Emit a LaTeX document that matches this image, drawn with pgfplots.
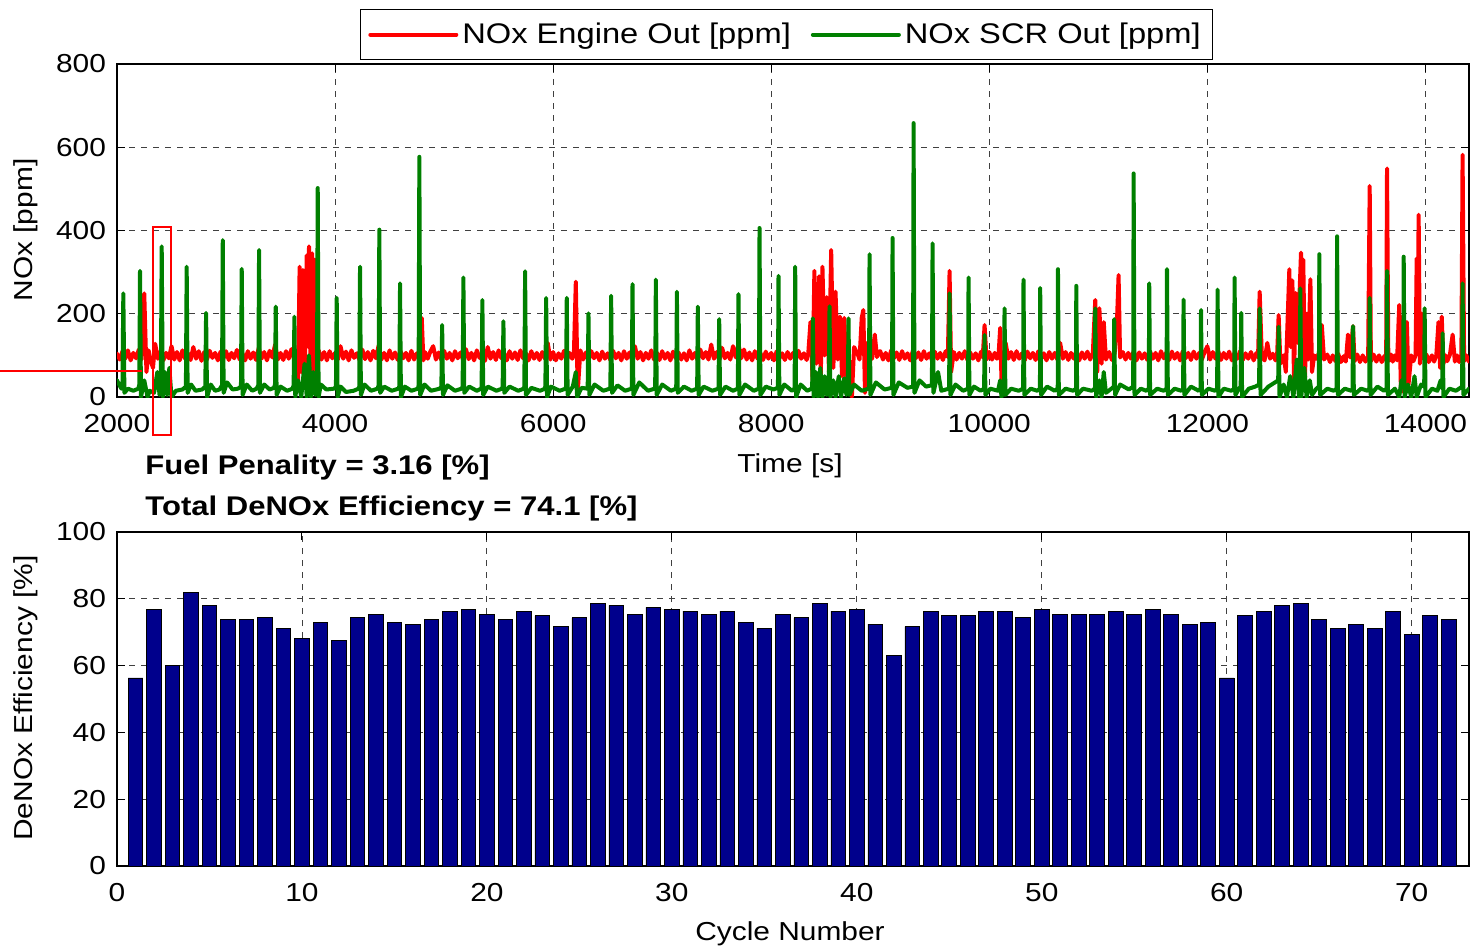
\documentclass[border=0pt]{standalone}
\usepackage{fontspec}
\setmainfont{Liberation Sans}[FakeStretch=1.15]
\usepackage{pgfplots}
\pgfplotsset{compat=1.18}
\definecolor{mred}{rgb}{1,0,0}
\definecolor{mgreen}{rgb}{0,0.5,0}
\definecolor{mbar}{rgb}{0,0,0.55}
\newcommand{\fs}{\fontsize{13}{15}\selectfont}
\newcommand{\fb}{\fontsize{13.5}{16}\selectfont\bfseries}
\newcommand{\fl}{\fontsize{14.2}{17}\selectfont}
\begin{document}
\begin{tikzpicture}
\pgfplotsset{mystyle/.style={scale only axis, width=676pt,
  axis line style={line width=0.7pt},
  grid=major, major grid style={black!75, dash pattern=on 3pt off 3pt, line width=0.45pt},
  tick align=inside, major tick length=4pt, tick style={black, line width=0.5pt},
  ticklabel style={font=\fs},
  xticklabel style={yshift=-5pt}, yticklabel style={xshift=-2pt},
  scaled x ticks=false, scaled y ticks=false,
  /pgf/number format/assume math mode=true, /pgf/number format/1000 sep={}}}
\begin{axis}[mystyle, at={(58.5pt,-198.5pt)}, anchor=south west, height=166.5pt,
  xmin=2000, xmax=14400, ymin=0, ymax=800,
  xtick={2000,4000,...,14000}, ytick={0,200,...,800},
  legend columns=2,
  legend style={at={(0.4952,1.012)}, anchor=south, draw=black, line width=0.6pt, font=\fl,
    inner xsep=4pt, inner ysep=4.5pt, /tikz/every even column/.append style={column sep=8pt}},
  legend image code/.code={\draw[#1] (0pt,0pt) -- (43pt,0pt);}]
\addplot[mred, line width=2pt, line join=round, line cap=round] coordinates {
(2000,104)(2025,90)(2050,110)(2075,92)(2100,112)(2125,88)(2150,106)(2175,93)(2200,114)(2225,90)(2250,249)(2270,60)(2290,112)(2310,86)(2330,70)(2350,128)(2375,92)(2400,110)(2425,88)(2450,106)(2475,93)(2500,122)(2525,90)(2550,108)(2575,88)(2600,112)(2625,92)(2650,105)(2675,89)(2700,120)(2725,92)(2750,110)(2775,87)(2800,108)(2825,90)(2850,111)(2875,94)(2900,106)(2925,88)(2950,109)(2975,92)
(3000,110)(3025,89)(3050,106)(3075,93)(3100,113)(3125,90)(3150,105)(3175,88)(3200,110)(3225,92)(3250,107)(3275,89)(3300,118)(3325,92)(3350,108)(3375,88)(3400,111)(3425,95)(3450,126)(3475,90)(3500,106)(3525,89)(3550,110)(3575,92)(3600,115)(3625,90)(3640,100)(3660,40)(3675,313)(3690,60)(3705,305)(3720,30)(3740,340)(3755,120)(3761,362)(3775,60)(3790,345)(3805,40)(3815,330)(3830,100)(3850,112)(3875,90)(3900,108)(3925,88)(3950,110)(3975,93)
(4000,106)(4025,90)(4050,122)(4075,92)(4100,109)(4125,88)(4150,112)(4175,94)(4200,105)(4225,89)(4250,114)(4275,91)(4300,108)(4325,88)(4350,111)(4375,93)(4400,124)(4425,90)(4450,106)(4475,88)(4500,112)(4525,92)(4550,107)(4575,89)(4600,110)(4625,93)(4650,106)(4675,88)(4700,111)(4725,90)(4750,105)(4775,92)(4795,190)(4810,88)(4825,108)(4850,92)(4875,110)(4900,122)(4925,90)(4950,107)(4975,89)
(5000,111)(5025,92)(5050,106)(5075,88)(5100,110)(5125,93)(5150,107)(5175,89)(5200,115)(5225,91)(5250,106)(5275,88)(5300,112)(5325,94)(5350,105)(5375,87)(5400,120)(5425,92)(5450,108)(5475,89)(5500,112)(5525,93)(5550,106)(5575,88)(5600,110)(5625,92)(5650,107)(5675,89)(5700,112)(5725,93)(5750,105)(5775,88)(5800,110)(5825,92)(5850,106)(5875,89)(5900,108)(5925,92)(5950,130)(5975,90)
(6000,108)(6025,88)(6050,105)(6075,92)(6100,111)(6125,89)(6150,106)(6175,92)(6190,100)(6208,277)(6225,10)(6250,112)(6275,90)(6300,107)(6325,88)(6350,110)(6375,93)(6400,106)(6425,88)(6450,109)(6475,92)(6500,105)(6525,89)(6550,111)(6575,93)(6600,106)(6625,88)(6650,110)(6675,92)(6700,107)(6725,89)(6750,122)(6775,92)(6800,108)(6825,88)(6850,106)(6875,92)(6900,112)(6925,90)(6950,107)(6975,89)
(7000,110)(7025,92)(7050,106)(7075,88)(7100,109)(7125,93)(7150,107)(7175,90)(7200,105)(7225,88)(7250,112)(7275,92)(7300,106)(7325,89)(7350,114)(7375,93)(7400,108)(7425,90)(7450,126)(7475,92)(7500,108)(7525,89)(7550,118)(7575,93)(7600,106)(7625,90)(7650,122)(7675,95)(7700,127)(7725,93)(7750,114)(7775,90)(7800,107)(7825,88)(7850,110)(7875,92)(7900,106)(7925,89)(7950,109)(7975,92)
(8000,106)(8025,88)(8050,110)(8075,93)(8100,105)(8125,89)(8150,108)(8175,92)(8200,106)(8225,88)(8250,111)(8275,92)(8300,105)(8325,89)(8340,105)(8360,180)(8380,40)(8396,303)(8415,80)(8440,290)(8455,50)(8470,313)(8490,100)(8510,240)(8530,60)(8550,353)(8570,70)(8590,253)(8610,90)(8630,193)(8650,50)(8670,190)(8690,40)(8710,100)(8740,0)(8760,120)(8790,105)(8810,90)(8830,190)(8845,209)(8860,10)(8880,130)(8900,100)(8925,92)(8950,150)(8970,96)(8985,108)
(9000,110)(9025,90)(9050,106)(9075,88)(9100,112)(9125,93)(9150,107)(9175,89)(9200,110)(9225,92)(9250,105)(9275,88)(9300,112)(9325,93)(9350,107)(9375,89)(9400,110)(9425,92)(9450,105)(9475,88)(9500,109)(9525,92)(9550,106)(9575,89)(9600,110)(9620,96)(9636,303)(9650,60)(9675,108)(9700,90)(9725,106)(9750,92)(9775,110)(9800,89)(9825,107)(9850,92)(9875,105)(9900,88)(9925,109)(9940,95)(9957,173)(9975,90)
(10000,108)(10025,90)(10050,106)(10070,92)(10085,100)(10100,166)(10115,10)(10150,130)(10175,92)(10200,108)(10225,89)(10250,110)(10275,92)(10300,105)(10325,88)(10350,109)(10375,93)(10400,106)(10425,89)(10450,110)(10475,92)(10500,105)(10525,88)(10550,108)(10575,92)(10600,106)(10625,90)(10650,130)(10675,92)(10700,108)(10725,89)(10750,106)(10775,92)(10800,110)(10825,88)(10850,107)(10875,92)(10900,109)(10925,90)(10950,106)
(10972,233)(10990,60)(11010,213)(11030,80)(11050,180)(11070,90)(11100,108)(11125,89)(11150,106)(11170,173)(11186,293)(11200,95)(11225,108)(11250,90)(11275,106)(11300,92)(11325,110)(11350,88)(11375,107)(11400,92)(11425,105)(11450,89)(11475,109)(11500,92)(11525,106)(11550,88)(11575,110)(11600,93)(11625,107)(11650,89)(11675,109)(11700,92)(11725,106)(11750,88)(11775,110)(11800,93)(11825,106)(11850,89)(11875,109)(11900,92)(11925,106)(11950,90)(11975,108)
(12000,122)(12025,90)(12050,108)(12075,92)(12100,110)(12125,89)(12150,106)(12175,92)(12200,109)(12225,88)(12250,106)(12275,92)(12300,110)(12325,89)(12350,105)(12375,92)(12400,108)(12425,88)(12450,106)(12465,95)(12480,253)(12500,96)(12525,88)(12550,130)(12575,92)(12600,104)(12625,88)(12640,100)(12654,197)(12670,80)(12700,100)(12720,60)(12752,307)(12765,120)(12780,280)(12795,40)(12810,250)(12830,130)(12859,347)(12870,100)(12880,330)(12895,40)(12910,200)(12925,90)(12945,283)(12960,60)(12980,100)(13000,92)(13025,106)(13050,173)(13070,90)
(13100,102)(13125,84)(13150,100)(13175,86)(13200,104)(13225,84)(13250,98)(13270,85)(13290,150)(13310,95)(13336,170)(13350,86)(13375,102)(13400,84)(13425,100)(13450,85)(13475,98)(13489,507)(13500,86)(13525,102)(13550,85)(13575,100)(13600,84)(13625,99)(13640,88)(13648,549)(13660,86)(13685,102)(13700,85)(13720,100)(13740,88)(13760,221)(13775,20)(13790,193)(13805,10)(13830,180)(13845,30)(13870,100)(13890,86)(13910,100)(13920,333)(13930,200)(13938,438)(13950,80)(13970,200)(13990,90)(14010,102)(14030,84)(14060,100)(14080,85)(14100,100)(14120,180)(14135,70)(14150,193)(14165,80)(14185,100)(14200,86)(14225,102)(14250,150)(14270,85)(14290,100)(14310,84)(14330,98)(14341,582)(14355,86)(14375,100)(14400,85)
};
\addplot[mgreen, line width=2pt, line join=round, line cap=round] coordinates {
(2000,40)(2020,30)(2040,20)(2050,25)(2058,249)(2068,10)(2100,20)(2150,15)(2195,20)(2205,30)(2211,303)(2220,0)(2250,40)(2280,0)(2300,15)(2340,10)(2370,60)(2390,5)
(2402,30)(2410,362)(2420,0)(2440,60)(2460,5)(2480,70)(2500,0)(2540,15)(2600,18)(2632,25)(2639,313)(2648,10)(2680,30)(2720,15)(2780,18)
(2810,25)(2817,202)(2826,0)(2860,30)(2900,15)(2940,18)(2963,28)(2970,377)(2978,10)(3010,35)(3060,18)(3110,20)
(3137,25)(3144,308)(3152,5)(3190,30)(3240,15)(3280,20)(3296,28)(3303,353)(3311,10)(3350,30)(3400,18)(3440,22)
(3449,30)(3456,217)(3464,5)(3500,25)(3560,15)(3610,20)(3620,28)(3627,193)(3635,0)(3660,40)(3690,0)(3720,80)(3740,0)(3760,100)(3780,0)(3800,60)(3820,5)(3834,30)
(3841,502)(3849,0)(3870,30)(3920,18)(3990,20)(4008,25)(4015,238)(4023,0)(4050,25)(4100,12)(4170,15)(4215,20)
(4222,25)(4229,313)(4237,5)(4270,30)(4330,15)(4390,20)(4399,28)(4406,402)(4414,10)(4450,25)(4520,15)(4580,20)
(4589,25)(4596,273)(4604,0)(4640,25)(4700,15)(4760,20)(4766,28)(4773,577)(4781,5)(4820,30)(4880,15)(4960,20)
(4975,25)(4982,173)(4990,5)(5030,28)(5100,15)(5160,20)(5170,25)(5177,287)(5185,10)(5230,25)(5300,15)(5340,20)
(5344,25)(5351,233)(5359,5)(5400,25)(5480,15)(5530,20)(5537,25)(5544,182)(5552,10)(5600,25)(5680,15)(5730,20)
(5736,25)(5743,302)(5751,5)(5800,22)(5880,15)(5925,20)(5929,28)(5936,238)(5944,0)(5980,25)(6060,15)(6115,20)
(6118,25)(6125,238)(6133,5)(6180,25)(6208,60)(6220,0)(6260,22)(6315,20)(6317,25)(6324,201)(6332,5)(6380,30)(6460,15)(6520,20)
(6525,25)(6532,243)(6540,10)(6590,28)(6660,15)(6720,20)(6721,25)(6728,271)(6736,5)(6790,35)(6870,15)(6930,20)
(6936,25)(6942,282)(6950,5)(7000,30)(7080,15)(7125,20)(7129,25)(7135,253)(7143,10)(7200,25)(7270,15)(7318,20)
(7321,25)(7327,217)(7335,5)(7380,25)(7460,15)(7515,20)(7517,25)(7523,187)(7531,5)(7580,25)(7650,15)(7692,20)
(7694,25)(7700,247)(7708,5)(7760,30)(7840,15)(7885,20)(7887,25)(7893,406)(7901,5)(7950,25)(8020,18)(8060,22)
(8062,25)(8067,291)(8075,5)(8120,30)(8190,15)(8213,20)(8215,25)(8220,313)(8228,0)(8270,30)(8330,15)(8370,20)
(8376,25)(8382,189)(8390,0)(8410,60)(8430,0)(8450,70)(8470,0)(8490,50)(8510,5)(8529,30)(8535,218)(8543,0)(8570,40)(8590,0)(8620,50)(8640,0)(8670,45)(8690,5)(8703,30)
(8709,189)(8717,5)(8760,30)(8830,15)(8895,20)(8897,25)(8902,343)(8910,5)(8960,35)(9040,18)(9105,22)
(9108,28)(9113,382)(9121,5)(9170,35)(9250,22)(9300,25)(9301,30)(9306,658)(9314,10)(9360,40)(9420,25)(9470,28)
(9474,30)(9480,369)(9488,10)(9530,60)(9560,15)(9630,20)(9632,25)(9636,249)(9644,5)(9690,30)(9760,15)(9805,20)
(9806,25)(9810,287)(9818,5)(9860,25)(9920,15)(9952,20)(9953,25)(9957,149)(9965,5)(10010,20)(10080,15)(10100,40)(10112,0)(10135,20)
(10136,25)(10140,213)(10148,5)(10200,20)(10270,15)(10310,20)(10311,25)(10314,282)(10322,5)(10380,20)(10440,15)(10464,20)
(10465,25)(10467,262)(10475,5)(10530,25)(10600,15)(10627,20)(10628,25)(10630,307)(10638,5)(10700,20)(10770,15)(10795,20)
(10796,25)(10798,267)(10806,5)(10860,20)(10940,15)(10968,20)(10970,25)(10972,213)(10980,0)(11010,40)(11030,0)(11050,60)(11070,10)(11120,20)(11143,25)
(11146,187)(11154,5)(11200,30)(11280,18)(11320,25)(11324,537)(11332,5)(11390,20)(11440,15)(11463,20)
(11467,273)(11475,5)(11540,20)(11600,15)(11626,20)(11630,307)(11638,5)(11700,20)(11760,15)(11778,20)
(11782,234)(11790,5)(11850,25)(11920,15)(11938,20)(11942,209)(11950,5)(12010,20)(12070,15)(12090,20)
(12094,258)(12102,0)(12150,20)(12220,15)(12246,20)(12250,287)(12258,5)(12290,20)(12306,25)(12311,202)(12319,0)(12380,20)(12440,25)(12475,30)
(12480,213)(12488,5)(12560,25)(12620,35)(12650,40)(12654,169)(12662,0)(12700,30)(12730,0)(12760,50)(12790,0)(12820,90)(12840,0)(12848,30)
(12853,261)(12861,0)(12890,70)(12910,0)(12940,40)(12960,5)(13000,20)(13023,25)(13027,343)(13035,5)(13100,20)(13160,15)(13186,20)
(13190,386)(13198,5)(13260,20)(13320,15)(13332,20)(13336,170)(13344,5)(13410,20)(13470,15)(13485,20)
(13489,238)(13497,5)(13560,25)(13620,15)(13644,20)(13648,303)(13656,5)(13720,20)(13760,0)(13780,40)(13797,25)
(13801,337)(13809,0)(13840,30)(13870,0)(13900,50)(13920,0)(13960,30)(13989,25)(13993,213)(14001,0)(14060,20)(14110,15)(14140,40)(14154,20)
(14158,153)(14166,0)(14220,20)(14280,15)(14337,25)(14341,273)(14349,5)(14400,20)
};
\legend{NOx Engine Out [ppm], NOx SCR Out [ppm]}
\end{axis}
\begin{axis}[mystyle, at={(58.5pt,-433pt)}, anchor=south west, height=167pt,
  xmin=0, xmax=73.1, ymin=0, ymax=100,
  xtick={0,10,...,70}, ytick={0,20,...,100}]
\addplot[ybar, bar width=0.8, fill=mbar, draw=black, line width=0.4pt] coordinates {
(1,56.3)(2,76.8)(3,60)(4,81.8)(5,78)(6,73.8)(7,73.8)(8,74.3)(9,71.2)(10,68)(11,73)(12,67.4)(13,74.3)(14,75.4)(15,73)(16,72.4)(17,73.8)(18,76.3)(19,76.8)(20,75.4)(21,73.8)(22,76.3)(23,74.9)(24,71.7)(25,74.3)(26,78.6)(27,78)(28,75.4)(29,77.4)(30,76.8)(31,76.3)(32,75.4)(33,76.3)(34,73)(35,71.2)(36,75.4)(37,74.3)(38,78.6)(39,76.3)(40,76.8)(41,72.4)(42,63.1)(43,71.7)(44,76.3)(45,74.9)(46,74.9)(47,76.3)(48,76.3)(49,74.3)(50,76.8)(51,75.4)(52,75.4)(53,75.4)(54,76.3)(55,75.4)(56,76.8)(57,75.4)(58,72.4)(59,73)(60,56.3)(61,74.9)(62,76.3)(63,78)(64,78.6)(65,73.8)(66,71.2)(67,72.4)(68,71.2)(69,76.3)(70,69.4)(71,74.9)(72,73.8)
};
\end{axis}
% annotations
\draw[mred, line width=1pt] (76.5pt,-113.5pt) rectangle (85.5pt,-217.5pt);
\draw[mred, line width=1pt] (0pt,-185.5pt) -- (71pt,-185.5pt);
% texts
\node[font=\fb, anchor=base west, inner sep=0pt] at (72.5pt,-237pt) {Fuel Penality = 3.16 [\%]};
\node[font=\fb, anchor=base west, inner sep=0pt] at (72.5pt,-257.5pt) {Total DeNOx Efficiency = 74.1 [\%]};
\node[font=\fs, anchor=base, inner sep=0pt] at (395pt,-236pt) {Time [s]};
\node[font=\fs, anchor=base, inner sep=0pt] at (395pt,-470pt) {Cycle Number};
\node[font=\fs, rotate=90, inner sep=0pt] at (13pt,-115pt) {NOx [ppm]};
\node[font=\fs, rotate=90, inner sep=0pt] at (13pt,-349pt) {DeNOx Efficiency [\%]};
\pgfresetboundingbox
\useasboundingbox (0pt,0pt) rectangle (735.5pt,-473pt);
\end{tikzpicture}
\end{document}
